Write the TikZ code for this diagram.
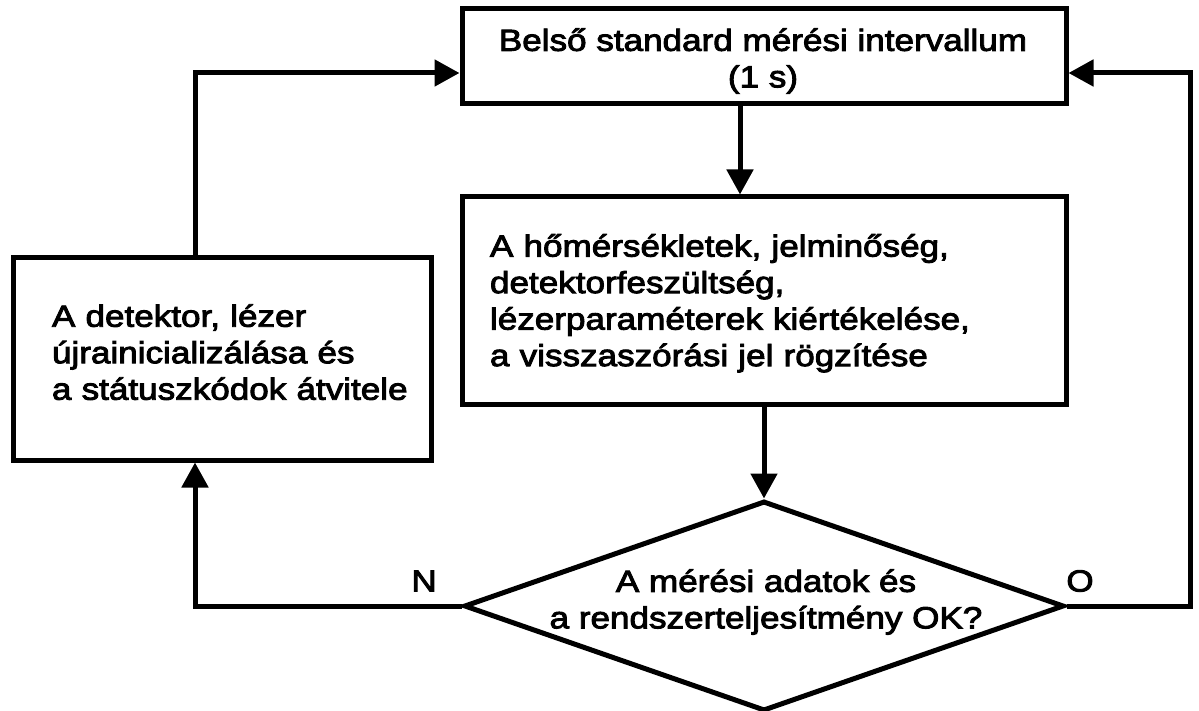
\documentclass[tikz,border=0pt]{standalone}
\usepackage{fontspec}
\setmainfont{Liberation Sans}[FakeStretch=1.15,FakeBold=3]
\usetikzlibrary{arrows.meta,shapes.geometric}
\begin{document}
\begin{tikzpicture}[x=1pt,y=-1pt,
  every node/.style={font=\fontsize{30.5}{36.5}\selectfont},
  box/.style={draw=black,line width=5pt,rectangle,inner sep=0pt},
  arr/.style={line width=5pt,-{Triangle[length=25pt,width=26pt]}},
  lbl/.style={inner sep=0pt}]
\useasboundingbox (0,0) rectangle (1199,711);
\node[box,minimum width=604pt,minimum height=95pt] (top) at (764,56.5) {};
\node[lbl,align=center] (toptext) at (763,61) {Belső standard mérési intervallum\\(1 s)};
\node[box,minimum width=604pt,minimum height=207pt,align=left,text width=548pt,inner xsep=28pt] (mid) at (764,300.5)
  {\rule{0pt}{28pt}A hőmérsékletek, jelminőség,\\detektorfeszültség,\\\mbox{lézerparaméterek kiértékelése,}\\a visszaszórási jel rögzítése};
\node[box,minimum width=418pt,minimum height=202pt,align=left,text width=340pt,inner xsep=39pt] (left) at (222,359)
  {A detektor, lézer\\\mbox{újrainicializálása és}\\\mbox{a státuszkódok átvitele}\rule[-14pt]{0pt}{1pt}};
\node[draw=black,line width=5pt,diamond,minimum width=600pt,minimum height=210pt,inner sep=0pt] (dia) at (764,606) {};
\node[lbl,align=center] (dtext) at (766,602) {A mérési adatok és\\a rendszerteljesítmény OK?};
\node[lbl] (N) at (424,581) {N};
\node[lbl] (O) at (1080,581) {O};
\coordinate (xa) at (740,0);
\coordinate (xl) at (195,0);
\coordinate (xr) at (1190,0);
\coordinate (ya) at (0,73);
\draw[arr] (top.south -| xa) -- (mid.north -| xa);
\draw[arr] (mid.south -| dia.north) -- (dia.north);
\draw[arr] (dia.west) -- (dia.west -| xl) -- (left.south -| xl);
\draw[arr] (left.north -| xl) -- (xl |- ya) -- (top.west |- ya);
\draw[arr] (dia.east) -- (dia.east -| xr) -- (xr |- ya) -- (top.east |- ya);
\end{tikzpicture}
\end{document}
